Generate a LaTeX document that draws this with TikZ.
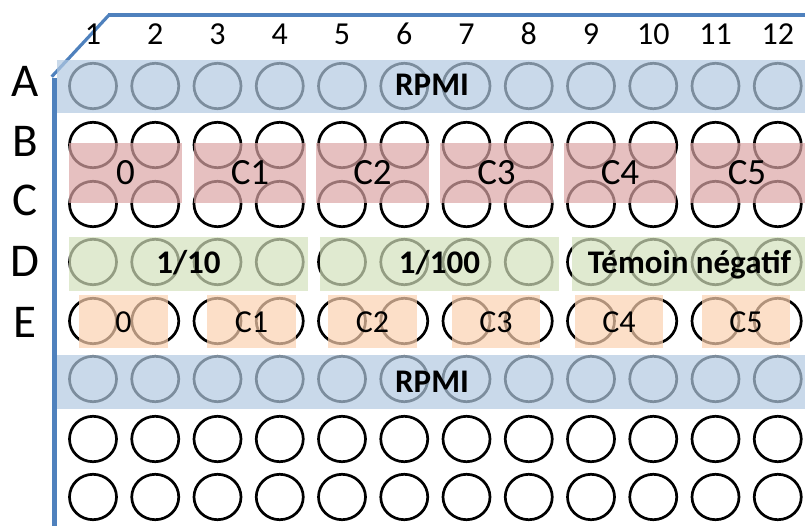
\documentclass[tikz,border=0pt]{standalone}
\usepackage{fontspec}
\setmainfont{Carlito}
\definecolor{frameblue}{RGB}{79,129,189}
\definecolor{bandblue}{RGB}{178,201,225}
\definecolor{bandred}{RGB}{219,165,165}
\definecolor{bandgreen}{RGB}{211,225,188}
\definecolor{bandorange}{RGB}{251,209,176}
\begin{document}
\begin{tikzpicture}[x=1pt,y=-1pt,
  well/.style={draw=black,line width=2.7pt},
  frameline/.style={draw=frameblue,line width=4.2pt},
  band/.style={fill opacity=0.7},
  colnum/.style={anchor=base,inner sep=0pt,font=\fontsize{32}{38}\selectfont},
  rowlet/.style={anchor=base,inner sep=0pt,font=\fontsize{47}{56}\selectfont},
  boldlab/.style={anchor=base,inner sep=0pt,font=\fontsize{33}{40}\selectfont\bfseries},
  bclab/.style={anchor=base,inner sep=0pt,font=\fontsize{37}{44}\selectfont},
  elab/.style={anchor=base,inner sep=0pt,font=\fontsize{32}{38}\selectfont}]
\useasboundingbox (0,0) rectangle (805,526);
% frame
\draw[frameline] (54.5,527) -- (54.5,78);
\draw[frameline,line width=3.2pt] (51.7,76.7) -- (109,15);
\draw[frameline] (108,15) -- (806,15);
% wells
\foreach \yy in {86,145,204,262,321,379,439,497}{
  \foreach \c in {1,...,12}{
    \draw[well] ({93+(\c-1)*62.25},\yy) ellipse [x radius=23.5pt, y radius=22.7pt];
  }
}
% bands
\fill[bandblue,band] (57,60) rectangle (806,113);
\fill[bandblue,band] (57,355) rectangle (806,409);
\foreach \a/\b in {69/182,194/306,316/429,440/553,564/676,690/806}{
  \fill[bandred,band] (\a,143) rectangle (\b,203);
}
\foreach \a/\b in {69/308,320/559,572/806}{
  \fill[bandgreen,band] (\a,237) rectangle (\b,291);
}
\foreach \a/\b in {79/168,207/296,328/417,452/540,575/663,702/790}{
  \fill[bandorange,band] (\a,295) rectangle (\b,348);
}
% column numbers
\foreach \c in {1,...,12}{
  \node[colnum] (col\c) at ({93+(\c-1)*62.25},45) {\c};
}
% row letters
\node[rowlet] (rowA) at (25,97) {A};
\node[rowlet] (rowB) at (25,157) {B};
\node[rowlet] (rowC) at (25,216) {C};
\node[rowlet] (rowD) at (25,277) {D};
\node[rowlet] (rowE) at (25,337) {E};
% labels
\node[boldlab] (rpmiA) at (432,96) {RPMI};
\node[boldlab] (rpmiF) at (432,392) {RPMI};
\node[bclab] (bc0) at (125.5,185) {0};
\node[bclab] (bc1) at (250,185) {C1};
\node[bclab] (bc2) at (372.5,185) {C2};
\node[bclab] (bc3) at (496.5,185) {C3};
\node[bclab] (bc4) at (620,185) {C4};
\node[bclab] (bc5) at (747,185) {C5};
\node[boldlab] (d1) at (188.5,274) {1/10};
\node[boldlab] (d2) at (439.5,274) {1/100};
\node[boldlab] (d3) at (689.5,274) {Témoin négatif};
\node[elab] (e0) at (123.5,332.5) {0};
\node[elab] (e1) at (251.5,332.5) {C1};
\node[elab] (e2) at (372.5,332.5) {C2};
\node[elab] (e3) at (496,332.5) {C3};
\node[elab] (e4) at (619,332.5) {C4};
\node[elab] (e5) at (746,332.5) {C5};
\end{tikzpicture}
\end{document}
